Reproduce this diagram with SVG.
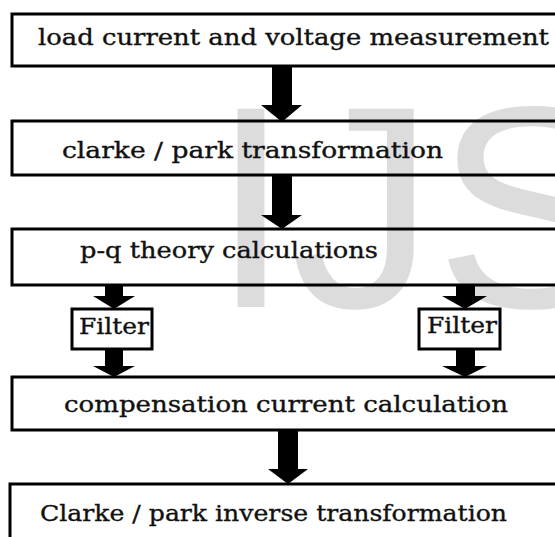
<svg xmlns="http://www.w3.org/2000/svg" width="555" height="537" viewBox="0 0 555 537">
<style>
.box{fill:none;stroke:#000;stroke-width:3}
.fbox{fill:#fff;stroke:#000;stroke-width:3}
.t{font-family:"DejaVu Serif","Liberation Serif",serif;font-size:22px;fill:#111;stroke:#111;stroke-width:0.35}
.arr{fill:#000}
.wm{font-family:"Liberation Sans",Arial,sans-serif;font-size:288px;fill:#dcdcdc}
</style>
<rect width="555" height="537" fill="#fff"/>
<text class="wm" x="211" y="307">IJS</text>
<g id="n1"><rect class="box" x="12" y="14" width="600" height="52"/><text class="t" x="38" y="45" textLength="511" lengthAdjust="spacingAndGlyphs">load current and voltage measurement</text></g>
<g id="n2"><rect class="box" x="12" y="121" width="600" height="54"/><text class="t" x="62" y="158" textLength="381" lengthAdjust="spacingAndGlyphs">clarke / park transformation</text></g>
<g id="n3"><rect class="box" x="12" y="229" width="600" height="56"/><text class="t" x="80" y="258" textLength="298" lengthAdjust="spacingAndGlyphs">p-q theory calculations</text></g>
<g id="n4"><rect class="box" x="12" y="377" width="600" height="53"/><text class="t" x="64" y="412" textLength="444" lengthAdjust="spacingAndGlyphs">compensation current calculation</text></g>
<g id="n5"><rect class="box" x="10" y="484" width="600" height="80"/><text class="t" x="40" y="521" font-size="23" textLength="467" lengthAdjust="spacingAndGlyphs">Clarke / park inverse transformation</text></g>
<g id="connectors">
<polygon class="arr" points="272,66 292,66 292,105 302,105 282,122 261,105 272,105"/>
<polygon class="arr" points="272,175 292,175 292,215 302,215 282,229 261,215 272,215"/>
<polygon class="arr" points="105,285 123,285 123,296 135,296 114,309 93,296 105,296"/>
<polygon class="arr" points="105,349 123,349 123,366 135,366 114,377 93,366 105,366"/>
<polygon class="arr" points="456,285 475,285 475,296 487,296 465,309 442,296 456,296"/>
<polygon class="arr" points="456,349 475,349 475,366 487,366 465,377 442,366 456,366"/>
<polygon class="arr" points="278,430 298,430 298,469 308,469 288,484 268,469 278,469"/>
</g>
<g id="f1"><rect class="fbox" x="72" y="309" width="80" height="40"/><text class="t" x="79" y="334" textLength="70" lengthAdjust="spacingAndGlyphs">Filter</text></g>
<g id="f2"><rect class="fbox" x="419" y="309" width="81" height="40"/><text class="t" x="427" y="333" textLength="70" lengthAdjust="spacingAndGlyphs">Filter</text></g>
</svg>
